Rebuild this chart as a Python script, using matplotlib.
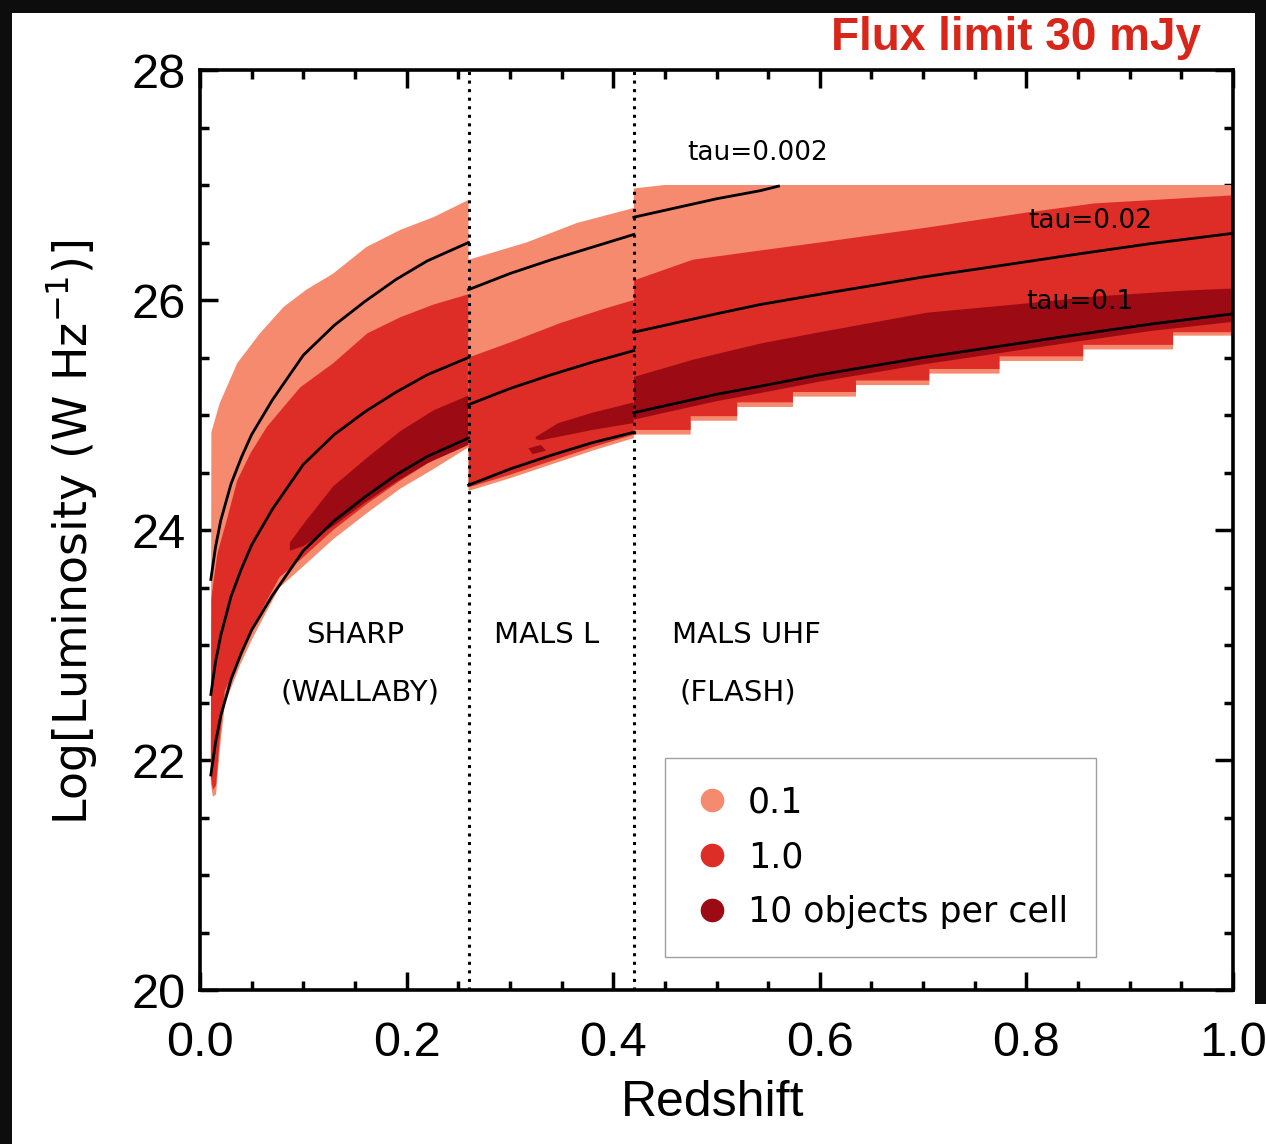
import numpy as np
import matplotlib
matplotlib.use("Agg")
import matplotlib.pyplot as plt
from matplotlib.patches import Rectangle
from matplotlib.ticker import MultipleLocator

plt.rcParams["mathtext.default"] = "regular"
NARROW = ["Liberation Sans", "DejaVu Sans"]
ROUND = ["DejaVu Sans"]

C_LIGHT = "#f58a6e"
C_MID = "#de2d26"
C_DARK = "#9c0b14"

# ---------------- data ----------------
survey_edges = [0.26, 0.42]

# tau lines, segment 1 (SHARP / WALLABY)
z_s1 = [0.0105, 0.015, 0.02, 0.03, 0.04, 0.05, 0.07, 0.10, 0.13, 0.16, 0.19, 0.22, 0.26]
tau0002_s1 = [23.57, 23.85, 24.08, 24.40, 24.63, 24.83, 25.13, 25.52, 25.78, 25.99, 26.18, 26.34, 26.50]
tau002_s1 = [22.57, 22.85, 23.08, 23.42, 23.66, 23.87, 24.18, 24.57, 24.83, 25.03, 25.20, 25.35, 25.50]
tau01_s1 = [21.87, 22.15, 22.38, 22.70, 22.93, 23.13, 23.43, 23.82, 24.08, 24.29, 24.48, 24.64, 24.80]

# segment 2 (MALS L)
z_s2 = [0.26, 0.30, 0.34, 0.38, 0.42]
tau0002_s2 = [26.09, 26.23, 26.35, 26.46, 26.57]
tau002_s2 = [25.09, 25.23, 25.35, 25.46, 25.56]
tau01_s2 = [24.39, 24.53, 24.65, 24.76, 24.85]

# segment 3 (MALS UHF / FLASH)
z_s3 = [0.42, 0.50, 0.542, 0.60, 0.70, 0.768, 0.85, 0.92, 1.0]
tau002_s3 = [25.72, 25.88, 25.96, 26.05, 26.20, 26.29, 26.40, 26.49, 26.58]
tau01_s3 = [25.02, 25.18, 25.25, 25.35, 25.50, 25.59, 25.70, 25.79, 25.88]
z_s3_top = [0.42, 0.46, 0.50, 0.542, 0.56]
tau0002_s3 = [26.72, 26.80, 26.88, 26.95, 26.99]

# density contours: (z, logL) along the upper edge, then the lower edge
light_s1_z = [0.0105, 0.011, 0.019, 0.036, 0.058, 0.081, 0.103, 0.129, 0.161, 0.194, 0.226, 0.26,
              0.26, 0.226, 0.194, 0.162, 0.129, 0.097, 0.077, 0.065, 0.051, 0.039, 0.029, 0.024, 0.019, 0.0155, 0.0125, 0.0105]
light_s1_L = [22.0, 24.85, 25.10, 25.45, 25.71, 25.94, 26.09, 26.23, 26.46, 26.61, 26.72, 26.87,
              24.72, 24.53, 24.36, 24.15, 23.92, 23.66, 23.50, 23.30, 23.06, 22.83, 22.60, 22.48, 22.08, 21.70, 21.68, 21.80]
mid_s1_z = [0.0105, 0.011, 0.013, 0.017, 0.026, 0.036, 0.049, 0.065, 0.097, 0.129, 0.162, 0.194, 0.226, 0.26,
            0.26, 0.226, 0.194, 0.162, 0.129, 0.097, 0.077, 0.065, 0.051, 0.039, 0.029, 0.024, 0.019, 0.0155, 0.0125, 0.0105]
mid_s1_L = [22.0, 23.40, 23.55, 23.80, 24.09, 24.43, 24.67, 24.90, 25.24, 25.45, 25.71, 25.85, 25.96, 26.05,
            24.78, 24.61, 24.43, 24.23, 24.00, 23.74, 23.59, 23.39, 23.16, 22.93, 22.70, 22.60, 22.17, 21.78, 21.74, 21.85]
dark_s1_z = [0.087, 0.10, 0.129, 0.162, 0.194, 0.226, 0.26, 0.26, 0.22, 0.19, 0.16, 0.13, 0.10, 0.087]
dark_s1_L = [23.89, 24.05, 24.38, 24.63, 24.86, 25.04, 25.17, 24.74, 24.58, 24.42, 24.24, 24.04, 23.86, 23.82]

light_s2_z = [0.26, 0.316, 0.365, 0.42, 0.42, 0.38, 0.34, 0.30, 0.26]
light_s2_L = [26.35, 26.50, 26.67, 26.80, 24.80, 24.69, 24.57, 24.45, 24.34]
mid_s2_z = [0.26, 0.30, 0.349, 0.39, 0.42, 0.42, 0.38, 0.34, 0.30, 0.26]
mid_s2_L = [25.50, 25.63, 25.80, 25.92, 26.00, 24.83, 24.72, 24.60, 24.48, 24.37]
dark_s2_z = [0.325, 0.347, 0.38, 0.42, 0.42, 0.38, 0.33, 0.325]
dark_s2_L = [24.81, 24.93, 25.02, 25.11, 24.93, 24.87, 24.78, 24.79]
blob_s2_z = [0.318, 0.33, 0.335, 0.322]
blob_s2_L = [24.71, 24.74, 24.69, 24.66]

light_s3_z = [0.42, 0.45, 1.0, 1.0, 0.942, 0.942, 0.855, 0.855, 0.774, 0.774, 0.706, 0.706,
              0.635, 0.635, 0.574, 0.574, 0.52, 0.52, 0.475, 0.475, 0.42]
light_s3_L = [26.97, 27.0, 27.0, 25.69, 25.69, 25.57, 25.57, 25.47, 25.47, 25.36, 25.36, 25.26,
              25.26, 25.16, 25.16, 25.07, 25.07, 24.95, 24.95, 24.83, 24.83]
mid_s3_z = [0.42, 0.477, 0.542, 0.60, 0.704, 0.80, 0.866, 1.0, 1.0, 0.942, 0.942, 0.855, 0.855,
            0.774, 0.774, 0.706, 0.706, 0.635, 0.635, 0.574, 0.574, 0.52, 0.52, 0.475, 0.475, 0.42]
mid_s3_L = [26.17, 26.35, 26.43, 26.50, 26.63, 26.76, 26.84, 26.91, 25.72, 25.72, 25.61, 25.61, 25.51,
            25.51, 25.40, 25.40, 25.30, 25.30, 25.20, 25.20, 25.11, 25.11, 24.99, 24.99, 24.87, 24.87]
dark_s3_z = [0.42, 0.477, 0.542, 0.60, 0.704, 0.80, 0.866, 0.95, 1.0,
             1.0, 0.92, 0.85, 0.768, 0.70, 0.60, 0.542, 0.50, 0.42]
dark_s3_L = [25.33, 25.48, 25.62, 25.72, 25.89, 25.97, 26.03, 26.08, 26.10,
             25.81, 25.73, 25.64, 25.53, 25.44, 25.29, 25.19, 25.12, 24.96]

legend_labels = ["0.1", "1.0", "10 objects per cell"]
survey_labels = [(0.150, 23.09, "SHARP"), (0.155, 22.59, "(WALLABY)"),
                 (0.336, 23.09, "MALS L"), (0.529, 23.09, "MALS UHF"), (0.521, 22.59, "(FLASH)")]
tau_labels = [(0.540, 27.28, "tau=0.002"), (0.862, 26.69, "tau=0.02"), (0.852, 25.98, "tau=0.1")]

# ---------------- figure ----------------
fig = plt.figure(figsize=(12.66, 11.44), dpi=100, facecolor="#0d0d0d")
fig.patches.append(Rectangle((12 / 1266, 0), (1255 - 12) / 1266, (1144 - 13) / 1144,
                             transform=fig.transFigure, facecolor="white", edgecolor="none", zorder=-10))
fig.patches.append(Rectangle((1250 / 1266, 0), 16 / 1266, 140 / 1144,
                             transform=fig.transFigure, facecolor="white", edgecolor="none", zorder=-10))
ax = fig.add_axes([200 / 1266, 1 - 990 / 1144, 1033 / 1266, 920 / 1144])
ax.set_zorder(2)
ax.set_facecolor("none")

for zz, LL, c in [(light_s1_z, light_s1_L, C_LIGHT), (mid_s1_z, mid_s1_L, C_MID), (dark_s1_z, dark_s1_L, C_DARK),
                  (light_s2_z, light_s2_L, C_LIGHT), (mid_s2_z, mid_s2_L, C_MID), (dark_s2_z, dark_s2_L, C_DARK),
                  (blob_s2_z, blob_s2_L, C_DARK),
                  (light_s3_z, light_s3_L, C_LIGHT), (mid_s3_z, mid_s3_L, C_MID), (dark_s3_z, dark_s3_L, C_DARK)]:
    ax.fill(zz, LL, color=c, lw=0, zorder=2)

for zz, LL in [(z_s1, tau0002_s1), (z_s1, tau002_s1), (z_s1, tau01_s1),
               (z_s2, tau0002_s2), (z_s2, tau002_s2), (z_s2, tau01_s2),
               (z_s3_top, tau0002_s3), (z_s3, tau002_s3), (z_s3, tau01_s3)]:
    ax.plot(zz, LL, color="black", lw=2.0, zorder=4)

for zv in survey_edges:
    ax.axvline(zv, color="black", ls=(0, (1, 1.8)), lw=2.2, zorder=5)

for x, y, s in survey_labels:
    ax.text(x, y, s, fontsize=21, family=ROUND, ha="center", va="center", zorder=6)
for x, y, s in tau_labels:
    ax.text(x, y, s, fontsize=19, family=ROUND, ha="center", va="center", zorder=6)

for lab, c in zip(legend_labels, [C_LIGHT, C_MID, C_DARK]):
    ax.plot([], [], "o", ms=16, color=c, label=lab)
leg = ax.legend(loc="lower left", bbox_to_anchor=(0.45, 0.036), frameon=True, fancybox=False,
                prop={"family": ROUND, "size": 25}, handlelength=1.1, handletextpad=0.5,
                labelspacing=0.6, borderpad=0.8, borderaxespad=0)
leg.get_frame().set_edgecolor("#888888")
leg.get_frame().set_linewidth(1.0)

ax.set_xlim(0, 1.0)
ax.set_ylim(20, 28)
ax.xaxis.set_major_locator(MultipleLocator(0.2))
ax.xaxis.set_minor_locator(MultipleLocator(0.05))
ax.yaxis.set_major_locator(MultipleLocator(2))
ax.yaxis.set_minor_locator(MultipleLocator(0.5))
ax.set_xticks(ax.get_xticks())
ax.set_xticklabels([f"{v:.1f}" for v in ax.get_xticks()])
ax.set_xlim(0, 1.0)
ax.tick_params(which="both", direction="in", top=True, right=True, width=2.5)
ax.tick_params(which="major", length=13)
ax.tick_params(which="minor", length=6.5)
ax.tick_params(axis="x", which="major", pad=22, labelsize=35)
ax.tick_params(axis="y", which="major", pad=10, labelsize=35)
for t in ax.get_xticklabels() + ax.get_yticklabels():
    t.set_family(NARROW)
for sp in ax.spines.values():
    sp.set_linewidth(2.6)

fig.text(713 / 1266, 1 - 1103 / 1144, "Redshift", fontsize=36, family=NARROW, ha="center", va="center")
fig.text(72 / 1266, 1 - 532 / 1144, r"Log[Luminosity (W Hz$^{-1}$)]", fontsize=33, family=ROUND,
         rotation=90, ha="center", va="center")
fig.text(1016 / 1266, 1 - 38 / 1144, "Flux limit 30 mJy", fontsize=33, family=NARROW, weight="bold",
         color="#d8261b", ha="center", va="center")

fig.savefig("out.png", dpi=100, facecolor=fig.get_facecolor())
